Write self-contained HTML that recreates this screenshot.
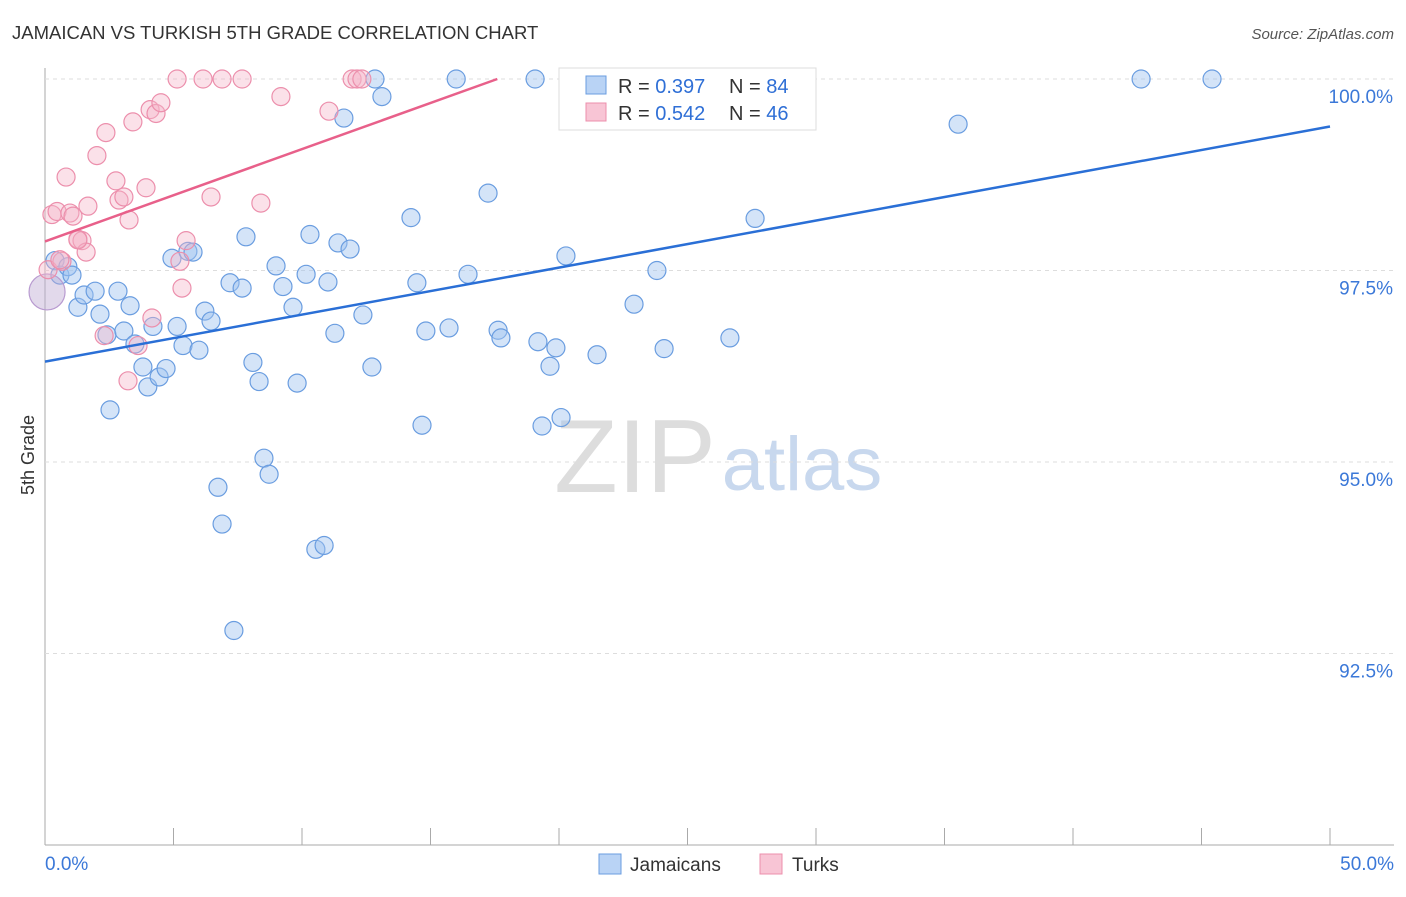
<!DOCTYPE html>
<html><head><meta charset="utf-8"><style>
body{margin:0;background:#fff;font-family:"Liberation Sans",sans-serif;}
svg text{font-family:"Liberation Sans",sans-serif;}
</style></head><body>
<svg width="1406" height="892" id="c">
<text x="12" y="39" font-size="18.5" fill="#333">JAMAICAN VS TURKISH 5TH GRADE CORRELATION CHART</text>
<text x="1394" y="39" font-size="15" fill="#555" font-style="italic" text-anchor="end">Source: ZipAtlas.com</text>
<text x="34" y="455" font-size="18" fill="#333" transform="rotate(-90 34 455)" text-anchor="middle">5th Grade</text>
<text x="635" y="492" font-size="104" fill="#ddd" font-family="Liberation Serif" text-anchor="middle">ZIP</text>
<text x="802" y="490" font-size="76" fill="#c8d8ee" text-anchor="middle">atlas</text>
<g id="grid"></g><g id="pts"></g><g id="lines"></g>
<rect x="559" y="68" width="257" height="62" fill="#fff" stroke="#ddd"/>
<rect x="586" y="76" width="20" height="18" fill="#b9d3f5" stroke="#6a9de0"/>
<rect x="586" y="103" width="20" height="18" fill="#f8c5d5" stroke="#ec8fac"/>
<text x="618" y="93" font-size="20" fill="#333">R = <tspan fill="#2f6fd6">0.397</tspan></text>
<text x="729" y="93" font-size="20" fill="#333">N = <tspan fill="#2f6fd6">84</tspan></text>
<text x="618" y="120" font-size="20" fill="#333">R = <tspan fill="#2f6fd6">0.542</tspan></text>
<text x="729" y="120" font-size="20" fill="#333">N = <tspan fill="#2f6fd6">46</tspan></text>
<rect x="599" y="854" width="22" height="20" fill="#b9d3f5" stroke="#6a9de0"/>
<text x="630" y="871" font-size="19" fill="#333">Jamaicans</text>
<rect x="760" y="854" width="22" height="20" fill="#f8c5d5" stroke="#ec8fac"/>
<text x="792" y="871" font-size="19" fill="#333">Turks</text>
</svg>
<script>
const yTicks=[100,97.5,95,92.5];
const yTickLabels=["100.0%","97.5%","95.0%","92.5%"];
const xLabels=["0.0%","50.0%"];
const jamX=[0.39,0.58,0.89,1.05,1.28,1.52,1.95,2.14,2.41,2.53,2.84,3.07,3.31,3.5,3.81,4.0,4.2,4.44,4.71,4.94,5.14,5.37,5.56,5.76,5.99,6.22,6.46,6.73,6.89,7.2,7.35,7.67,7.82,8.09,8.33,8.52,8.72,8.99,9.26,9.65,9.81,10.16,10.31,10.54,10.86,11.01,11.28,11.4,11.63,11.87,12.37,12.72,12.84,13.11,14.24,14.47,14.67,14.82,15.72,16.0,16.46,17.24,17.63,17.74,19.07,19.18,19.34,19.65,19.88,20.08,20.27,21.48,22.92,23.81,24.09,26.5,26.65,27.63,35.53,42.65,45.41,0.08];
const jamY=[97.63,97.44,97.55,97.44,97.02,97.18,97.23,96.93,96.66,95.68,97.23,96.71,97.04,96.54,96.24,95.98,96.77,96.11,96.22,97.66,96.77,96.52,97.75,97.74,96.46,96.97,96.84,94.67,94.19,97.34,92.8,97.27,97.94,96.3,96.05,95.05,94.84,97.56,97.29,97.02,96.03,97.45,97.97,93.86,93.91,97.35,96.68,97.86,99.49,97.78,96.92,96.24,100,99.77,98.19,97.34,95.48,96.71,96.75,100,97.45,98.51,96.72,96.62,100,96.57,95.47,96.25,96.49,95.58,97.69,96.4,97.06,97.5,96.48,100,96.62,98.18,99.41,100,100,97.22];
const turX=[0.12,0.27,0.47,0.66,0.82,0.97,1.09,1.28,1.44,1.6,1.67,2.02,2.3,2.37,2.76,2.88,3.07,3.23,3.27,3.42,3.62,3.93,4.09,4.16,4.32,4.51,5.14,5.25,5.33,5.49,6.15,6.46,6.89,7.67,8.4,9.18,11.05,11.95,12.14,12.33,26.46,29.46,1.28,0.58];
const turY=[97.51,98.23,98.27,97.62,98.72,98.25,98.21,97.91,97.89,97.74,98.34,99.0,96.65,99.3,98.67,98.42,98.46,96.06,98.16,99.44,96.52,98.58,99.6,96.88,99.55,99.69,100,97.62,97.27,97.89,100,98.46,100,100,98.38,99.77,99.58,100,100,100,100,100,97.9,97.64];
const jamTrend=[96.31,99.38], turTrend=[97.88,100];
const X=v=>45+v*25.7, Y=v=>79+(100-v)*76.6;
const NS="http://www.w3.org/2000/svg";
function mk(t,a,p){const e=document.createElementNS(NS,t);for(const k in a)e.setAttribute(k,a[k]);p.appendChild(e);return e;}
const g=document.getElementById('grid');
const ax=mk('line',{x1:45,y1:68,x2:45,y2:845,stroke:'#aaa'},g);


const bx=mk('line',{x1:45,y1:845,x2:1394,y2:845,stroke:'#aaa'},g);


yTicks.forEach((t,i)=>{
 const l=mk('line',{x1:45,y1:Y(t),x2:1394,y2:Y(t),stroke:'#ddd','stroke-dasharray':'4,4'},g);
 
 
 const tx=mk('text',{x:1393,y:Y(t)+24,'font-size':19,fill:'#3b78d8','text-anchor':'end'},g);
 tx.textContent=yTickLabels[i];
 
 
});
for(let i=0;i<=10;i++){
 const l=mk('line',{x1:X(i*5),y1:828,x2:X(i*5),y2:845,stroke:'#aaa'},g);
 
 
}
[[0,'start',45],[50,'end',1394]].forEach((d,i)=>{
 const tx=mk('text',{x:d[2],y:870,'font-size':19,fill:'#3b78d8','text-anchor':d[1]},g);
 tx.textContent=xLabels[i];
 
 
});
const p=document.getElementById('pts');
jamX.forEach((x,i)=>{
 const big=i===jamX.length-1;
 const c=mk('circle',{cx:X(x),cy:Y(jamY[i]),r:big?18:9,fill:big?'rgba(190,170,210,0.45)':'rgba(160,196,240,0.45)',stroke:big?'#b89ad0':'#6a9de0','stroke-width':1.2},p);
 
 
});
turX.forEach((x,i)=>{
 const c=mk('circle',{cx:X(x),cy:Y(turY[i]),r:9,fill:'rgba(246,180,200,0.4)',stroke:'#ec8fac','stroke-width':1.2},p);
 
 
});
const L=document.getElementById('lines');
const jl=mk('line',{x1:X(0),y1:Y(jamTrend[0]),x2:X(50),y2:Y(jamTrend[1]),stroke:'#2a6fd6','stroke-width':2.5},L);


const tl=mk('line',{x1:X(0),y1:Y(turTrend[0]),x2:X(17.6),y2:Y(turTrend[1]),stroke:'#e8608a','stroke-width':2.5},L);


</script>
</body></html>
